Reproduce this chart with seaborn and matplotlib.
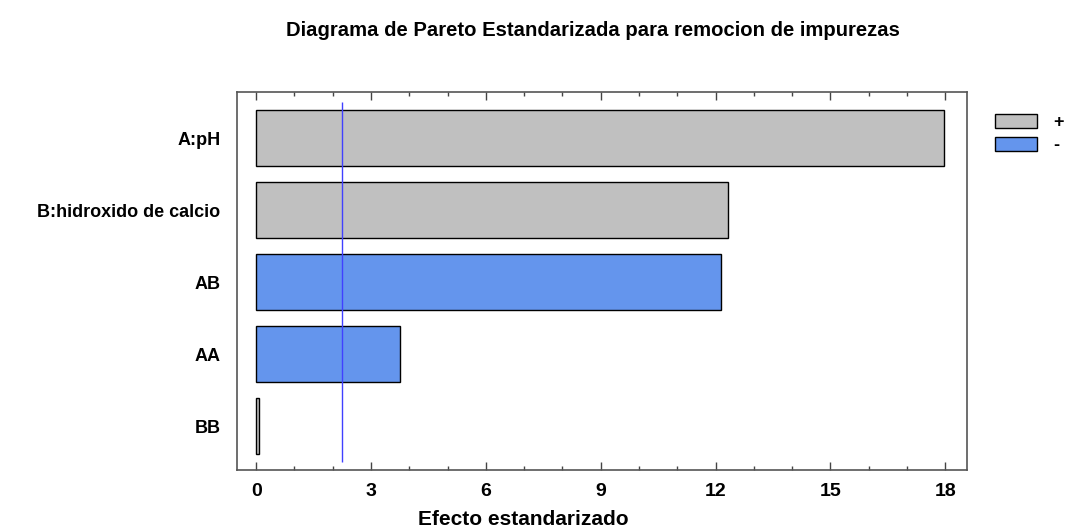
import pandas as pd
import numpy as np
import seaborn as sns
import matplotlib.pyplot as plt
import matplotlib.ticker as mticker
from matplotlib.patches import Patch

# Daten
factores = ["A:pH", "B:hidroxido de calcio", "AB", "AA", "BB"]
efectos = [17.98, 12.33, 12.15, 3.75, 0.07]
signos = ["+", "+", "-", "-", "+"]
limite = 2.23   # kritischer Wert

colores = {"+": "#C0C0C0", "-": "#6495ED"}

df = pd.DataFrame({"factor": factores, "efecto": efectos, "signo": signos})

sns.set_style("white")
plt.rcParams["font.family"] = ["Liberation Sans", "DejaVu Sans"]
plt.rcParams["font.weight"] = "bold"
plt.rcParams["text.color"] = "black"
plt.rcParams["xtick.color"] = "black"
plt.rcParams["ytick.color"] = "black"

fig = plt.figure(figsize=(10.72, 5.28), dpi=100)
ax = fig.add_axes([237 / 1072, 1 - 470 / 528, 730 / 1072, 378 / 528])

sns.barplot(data=df, x="efecto", y="factor", hue="signo", palette=colores,
            dodge=False, width=0.78, edgecolor="black", linewidth=1,
            saturation=1, legend=False, ax=ax)

ax.vlines(limite, -0.5, 4.5, color="#4040FF", linewidth=1)

ax.set_xlim(-0.5, 18.57)
ax.set_ylim(4.61, -0.64)
ax.xaxis.set_major_locator(mticker.MultipleLocator(3))
ax.xaxis.set_minor_locator(mticker.MultipleLocator(1))
ax.tick_params(axis="x", which="major", direction="in", length=6, width=1,
               top=True, bottom=True, labelsize=14, color="#444444", pad=9)
ax.tick_params(axis="x", which="minor", direction="in", length=3, width=1,
               top=True, bottom=True, color="#444444")
ax.tick_params(axis="y", length=0, labelsize=13, pad=12)
for lab in ax.get_xticklabels() + ax.get_yticklabels():
    lab.set_fontweight("bold")
    lab.set_color("black")

for s in ax.spines.values():
    s.set_color("#555555")
    s.set_linewidth(1.2)

ax.set_xlabel("Efecto estandarizado", fontsize=15, fontweight="bold", color="black")
ax.xaxis.set_label_coords((523 - 237) / 730, -0.105)
ax.set_ylabel("")

fig.suptitle("Diagrama de Pareto Estandarizada para remocion de impurezas",
             x=593 / 1072, y=0.96, fontsize=14.6, fontweight="bold", color="black")

handles = [Patch(facecolor=colores["+"], edgecolor="black", label="+"),
           Patch(facecolor=colores["-"], edgecolor="black", label="-")]
fig.legend(handles=handles, loc="upper left", bbox_to_anchor=(995 / 1072, 1 - 114 / 528),
           frameon=False, handlelength=2.3, handleheight=0.78, borderpad=0,
           borderaxespad=0, handletextpad=0.9, labelspacing=0.35,
           prop={"weight": "bold", "size": 13})

fig.savefig("out.png", dpi=100)
